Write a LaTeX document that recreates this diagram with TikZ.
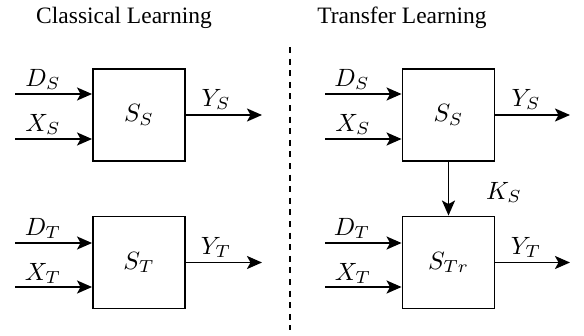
\documentclass[tikz,border=0pt]{standalone}
\usepackage{graphicx}
\usepackage{fontspec}
\newfontfamily\titlefont{Liberation Serif}
\usetikzlibrary{arrows.meta}
\newcommand{\mlab}[1]{\scalebox{2.5}{$#1$}}
\begin{document}
\begin{tikzpicture}[x=1pt,y=-1pt,
  line width=1.9pt,
  >={Stealth[length=15pt,width=13pt,inset=3.5pt]},
  sysbox/.style={draw, minimum width=92pt, minimum height=92pt, inner sep=0pt},
  lab/.style={anchor=base, inner sep=0pt},
  ttl/.style={anchor=base, inner sep=0pt, font=\titlefont\fontsize{23.5}{28}\selectfont},
  sep/.style={dash pattern=on 6pt off 5.6pt}]
\useasboundingbox (0,0) rectangle (584,335);
% titles
\node[ttl] (t1) at (124,23) {Classical Learning};
\node[ttl] (t2) at (402,23) {Transfer Learning};
% separator
\coordinate (d1) at (290,47);
\coordinate (d2) at (290,330);
\draw[sep] (d1) -- (d2);
% boxes
\node[sysbox] (ss) at (139,115) {\mlab{S_S}};
\node[sysbox] (st) at (139,262.5) {\mlab{S_T}};
\node[sysbox] (rs) at (448.5,115) {\mlab{S_S}};
\node[sysbox] (rt) at (448.5,262.5) {\mlab{S_{Tr}}};
% free ends
\coordinate (i1) at (15,94);
\coordinate (i2) at (15,139);
\coordinate (i3) at (15,243);
\coordinate (i4) at (15,287);
\coordinate (j1) at (325,94);
\coordinate (j2) at (325,139);
\coordinate (j3) at (325,243);
\coordinate (j4) at (325,287);
\coordinate (o1) at (262,115);
\coordinate (o2) at (262,262.5);
\coordinate (p1) at (570,115);
\coordinate (p2) at (570,262.5);
% left arrows
\draw[->] (i1) -- (i1 -| ss.west);
\draw[->] (i2) -- (i2 -| ss.west);
\draw[->] (i3) -- (i3 -| st.west);
\draw[->] (i4) -- (i4 -| st.west);
\draw[->] (ss.east) -- (o1);
\draw[->] (st.east) -- (o2);
% right arrows
\draw[->] (j1) -- (j1 -| rs.west);
\draw[->] (j2) -- (j2 -| rs.west);
\draw[->] (j3) -- (j3 -| rt.west);
\draw[->] (j4) -- (j4 -| rt.west);
\draw[->] (rs.east) -- (p1);
\draw[->] (rt.east) -- (p2);
\draw[->] (rs.south) -- (rt.north);
% labels
\node[lab] (l1) at (43,86) {\mlab{D_S}};
\node[lab] (l2) at (43,131) {\mlab{X_S}};
\node[lab] (l3) at (216,106) {\mlab{Y_S}};
\node[lab] (l4) at (43,235) {\mlab{D_T}};
\node[lab] (l5) at (43,280) {\mlab{X_T}};
\node[lab] (l6) at (216,254) {\mlab{Y_T}};
\node[lab] (r1) at (352,86) {\mlab{D_S}};
\node[lab] (r2) at (353,131) {\mlab{X_S}};
\node[lab] (r3) at (526,106) {\mlab{Y_S}};
\node[lab] (r4) at (352,235) {\mlab{D_T}};
\node[lab] (r5) at (353,280) {\mlab{X_T}};
\node[lab] (r6) at (526,254) {\mlab{Y_T}};
\node[lab] (k) at (504,199) {\mlab{K_S}};
\end{tikzpicture}
\end{document}
